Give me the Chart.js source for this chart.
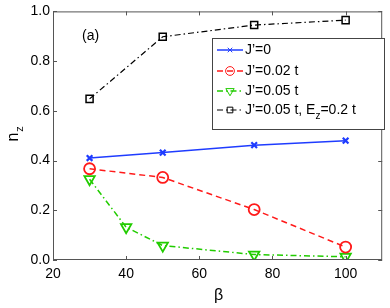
<!DOCTYPE html>
<html><head><meta charset="utf-8">
<script src="https://cdn.jsdelivr.net/npm/chart.js@4/dist/chart.umd.min.js"></script>
<style>html,body{margin:0;padding:0;background:#fff}#w{width:390px;height:308px}</style>
</head><body><div id="w"><canvas id="c"></canvas></div>
<script>
const betaA = [30, 50, 75, 100];
const betaG = [30, 40, 50, 75, 100];
const nzJ0 = [0.410, 0.432, 0.462, 0.480];
const nzJ002 = [0.367, 0.332, 0.203, 0.052];
const nzJ005 = [0.325, 0.132, 0.058, 0.022, 0.013];
const nzJ005E = [0.648, 0.898, 0.945, 0.965];
const xTicks = [20, 40, 60, 80, 100];
const yTicks = [0, 0.2, 0.4, 0.6, 0.8, 1.0];
const legendLabels = ["J\u2019=0", "J\u2019=0.02 t", "J\u2019=0.05 t", "J\u2019=0.05 t, E"];

const pts = (xs, ys) => xs.map((x, i) => ({x, y: ys[i]}));
const FONT = "'Liberation Sans', Arial, sans-serif";

const datasets = [
  {label: legendLabels[0], data: pts(betaA, nzJ0), borderColor: '#1f3cff', pointStyle: 'crossRot', pointRadius: 4, pointBorderWidth: 2.2, borderWidth: 1.5, dash: []},
  {label: legendLabels[1], data: pts(betaA, nzJ002), borderColor: '#ff1a1a', pointStyle: 'circle', pointRadius: 5.5, pointBorderWidth: 1.8, borderWidth: 1.5, dash: [6, 4]},
  {label: legendLabels[2], data: pts(betaG, nzJ005), borderColor: '#22cc00', pointStyle: 'triangle', pointRotation: 180, pointRadius: 6, pointBorderWidth: 1.8, borderWidth: 1.5, dash: [6, 3, 1.5, 3]},
  {label: legendLabels[3], data: pts(betaA, nzJ005E), borderColor: '#000000', pointStyle: 'rect', pointRadius: 5, pointBorderWidth: 1.5, borderWidth: 1.2, dash: [6, 3, 1.5, 3]}
].map(d => Object.assign(d, {borderDash: d.dash, pointBackgroundColor: 'rgba(0,0,0,0)', pointBorderColor: d.borderColor, backgroundColor: d.borderColor, tension: 0, fill: false}));

const overlay = {
  id: 'overlay',
  afterDraw(chart) {
    const ctx = chart.ctx, a = chart.chartArea, xs = chart.scales.x, ys = chart.scales.y;
    ctx.save();
    ctx.strokeStyle = '#555';
    ctx.lineWidth = 1;
    ctx.strokeRect(a.left + 0.5, a.top + 0.5, a.right - a.left - 1, a.bottom - a.top - 1);
    ctx.beginPath();
    xTicks.forEach(v => {
      const p = Math.round(xs.getPixelForValue(v)) + 0.5;
      ctx.moveTo(p, a.bottom); ctx.lineTo(p, a.bottom - 4);
      ctx.moveTo(p, a.top); ctx.lineTo(p, a.top + 4);
    });
    yTicks.forEach(v => {
      const p = Math.round(ys.getPixelForValue(v)) + 0.5;
      ctx.moveTo(a.left, p); ctx.lineTo(a.left + 4, p);
      ctx.moveTo(a.right, p); ctx.lineTo(a.right - 4, p);
    });
    ctx.stroke();

    ctx.fillStyle = '#000';
    ctx.font = '14px ' + FONT;
    ctx.textBaseline = 'middle';
    ctx.textAlign = 'left';
    ctx.fillText('(a)', 82, 36);

    ctx.font = '16px ' + FONT;
    ctx.textAlign = 'center';
    ctx.fillText('\u03b2', (a.left + a.right) / 2 + 1, 296);
    ctx.save();
    ctx.translate(14, 134);
    ctx.rotate(-Math.PI / 2);
    ctx.textAlign = 'center';
    ctx.fillText('n', -3, 0);
    ctx.font = '11px ' + FONT;
    ctx.fillText('z', 5, 6);
    ctx.restore();

    const bx = 212, by = 38, bw = 172, bh = 91;
    ctx.fillStyle = '#fff';
    ctx.fillRect(bx, by, bw, bh);
    ctx.strokeStyle = '#444';
    ctx.strokeRect(bx + 0.5, by + 0.5, bw, bh);
    const rows = [50, 71, 91, 110];
    chart.data.datasets.forEach((d, i) => {
      const y = rows[i];
      ctx.save();
      ctx.strokeStyle = d.borderColor;
      ctx.lineWidth = d.borderWidth;
      ctx.setLineDash(d.borderDash);
      ctx.beginPath(); ctx.moveTo(217, y); ctx.lineTo(243, y); ctx.stroke();
      ctx.setLineDash([]);
      ctx.lineWidth = 1;
      ctx.fillStyle = 'rgba(0,0,0,0)';
      Chart.helpers.drawPoint(ctx, {pointStyle: d.pointStyle, radius: d.pointRadius * 0.8, rotation: d.pointRotation || 0, borderWidth: 1}, 230, y);
      ctx.restore();
      ctx.fillStyle = '#000';
      ctx.font = '14px ' + FONT;
      ctx.textAlign = 'left';
      ctx.textBaseline = 'middle';
      ctx.fillText(d.label, 245, y);
      if (i === 3) {
        const w = ctx.measureText(d.label).width;
        ctx.font = '10px ' + FONT;
        ctx.fillText('z', 245 + w, y + 6);
        const wz = ctx.measureText('z').width;
        ctx.font = '14px ' + FONT;
        ctx.fillText('=0.2 t', 245 + w + wz, y);
      }
    });
    ctx.restore();
  }
};

new Chart(document.getElementById('c'), {
  type: 'line',
  data: {datasets},
  options: {
    responsive: true, maintainAspectRatio: false, animation: false,
    layout: {padding: {top: 10, right: 2, left: 0, bottom: 0}},
    plugins: {legend: {display: false}, tooltip: {enabled: false}},
    scales: {
      x: {type: 'linear', min: 20, max: 110,
        afterBuildTicks: s => { s.ticks = xTicks.map(v => ({value: v})); },
        afterFit: s => { s.height = 48; },
        grid: {display: false, drawTicks: false}, border: {display: false},
        ticks: {color: '#000', font: {size: 14, family: FONT}, padding: 6, maxRotation: 0}
      },
      y: {min: 0, max: 1,
        afterBuildTicks: s => { s.ticks = yTicks.map(v => ({value: v})); },
        afterFit: s => { s.width = 53; },
        grid: {display: false, drawTicks: false}, border: {display: false},
        ticks: {color: '#000', font: {size: 14, family: FONT}, padding: 3, callback: v => v.toFixed(1)}
      }
    }
  },
  plugins: [overlay]
});
</script></body></html>
